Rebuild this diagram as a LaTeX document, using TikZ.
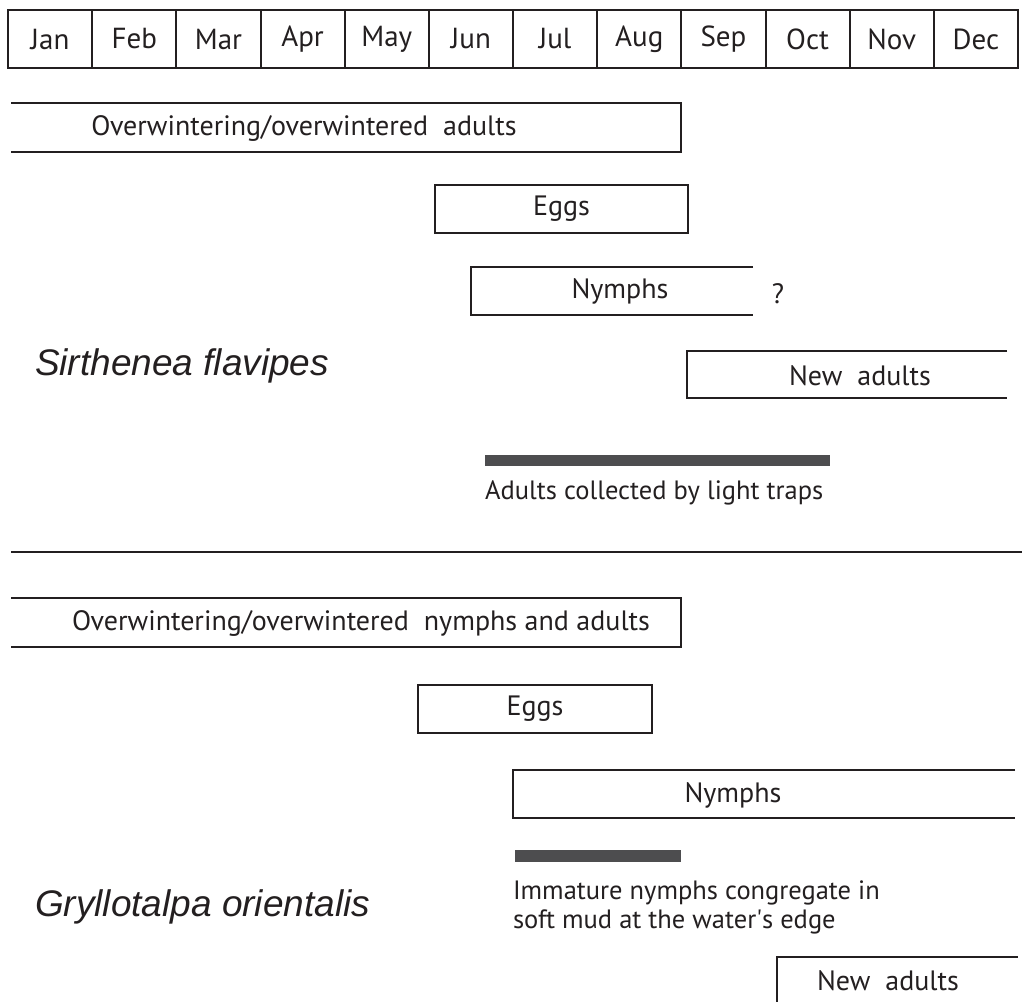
\documentclass[tikz,border=0pt]{standalone}
\usepackage{fontspec}
\setmainfont{PT Sans}
\newfontfamily\latinfont{Liberation Sans}
\usetikzlibrary{positioning}

\definecolor{ink}{HTML}{231F20}
\definecolor{trapgray}{HTML}{4D4D4F}

\begin{document}
\begin{tikzpicture}[
        x = 1pt, y = -1pt, % one unit per pixel, y runs down
        line width = 1.8pt, % box outline
        color = ink,
        every node/.style = {font = \fontsize{28}{29}\selectfont, text = ink, inner sep = 0pt, outer sep = 0pt}
    ]

    \tikzstyle{month}=[
        draw,
        line width = 2pt,
        font = \fontsize{29}{30}\selectfont,
        minimum width = 84.17pt,
        minimum height = 58pt
    ]
    \tikzstyle{bar}=[minimum height = 48pt]
    \tikzstyle{collected}=[fill = trapgray, minimum height = 11.5pt]
    \tikzstyle{species}=[font = \latinfont\itshape\fontsize{37}{40}\selectfont, anchor = base west]
    \tikzstyle{note}=[font = \fontsize{26.5}{29}\selectfont, anchor = base west, align = left]

    \useasboundingbox (0,0) rectangle (1029,1002);

    % month header
    \node (jan) [month] at (50.08,39) {Jan};
    \node (feb) [month, right = 0pt of jan] {Feb};
    \node (mar) [month, right = 0pt of feb] {Mar};
    \node (apr) [month, right = 0pt of mar] {Apr};
    \node (may) [month, right = 0pt of apr] {May};
    \node (jun) [month, right = 0pt of may] {Jun};
    \node (jul) [month, right = 0pt of jun] {Jul};
    \node (aug) [month, right = 0pt of jul] {Aug};
    \node (sep) [month, right = 0pt of aug] {Sep};
    \node (oct) [month, right = 0pt of sep] {Oct};
    \node (nov) [month, right = 0pt of oct] {Nov};
    \node (dec) [month, right = 0pt of nov] {Dec};

    % Sirthenea flavipes
    \node (sfow) [bar, minimum width = 670pt, minimum height = 49pt] at (346,127.5) {};
    \node (sfowt) at (304,128) {Overwintering/overwintered\ \ adults};
    \node (sfeg) [bar, minimum width = 253pt] at (561.5,209) {Eggs};
    \node (sfny) [bar, minimum width = 282pt] at (612,291) {};
    \node (sfnyt) at (620,291) {Nymphs};
    \node (sfq) at (778,294) {?};
    \node (sfna) [bar, minimum width = 320pt, minimum height = 47pt] at (847,374.5) {};
    \node (sfnat) at (860,376) {New\ \ adults};
    \node (sfname) [species] at (35,375) {Sirthenea flavipes};
    \node (sftrap) [collected, minimum width = 345pt] at (657.5,460.5) {};
    \node (sftrapt) [note] at (485,499) {Adults collected by light traps};

    \draw (sfow.north west) -- (sfow.north east) -- (sfow.south east) -- (sfow.south west);
    \draw (sfeg.north west) rectangle (sfeg.south east);
    \draw (sfny.north east) -- (sfny.north west) -- (sfny.south west) -- (sfny.south east);
    \draw (sfna.north east) -- (sfna.north west) -- (sfna.south west) -- (sfna.south east);

    % divider
    \coordinate (divl) at (11,552);
    \coordinate (divr) at (1022,552);
    \draw[line width = 2pt] (divl) -- (divr);

    % Gryllotalpa orientalis
    \node (goow) [bar, minimum width = 670pt, minimum height = 49pt] at (346,622.5) {};
    \node (goowt) at (361,623) {Overwintering/overwintered\ \ nymphs and adults};
    \node (goeg) [bar, minimum width = 234pt] at (535,709) {Eggs};
    \node (gony) [bar, minimum width = 502pt] at (764,794) {};
    \node (gonyt) at (733,795) {Nymphs};
    \node (gomud) [collected, minimum width = 166pt] at (598,856) {};
    \node (gomudt) [note] at (513,928) {Immature nymphs congregate in\\soft mud at the water\textquotesingle s edge};
    \node (goname) [species] at (35,916) {Gryllotalpa orientalis};
    \node (gona) [bar, minimum width = 241pt, minimum height = 56pt] at (897.5,985) {};
    \node (gonat) at (888,981) {New\ \ adults};

    \draw (goow.north west) -- (goow.north east) -- (goow.south east) -- (goow.south west);
    \draw (goeg.north west) rectangle (goeg.south east);
    \draw (gony.north east) -- (gony.north west) -- (gony.south west) -- (gony.south east);
    \draw (gona.south west) -- (gona.north west) -- (gona.north east);
\end{tikzpicture}
\end{document}
